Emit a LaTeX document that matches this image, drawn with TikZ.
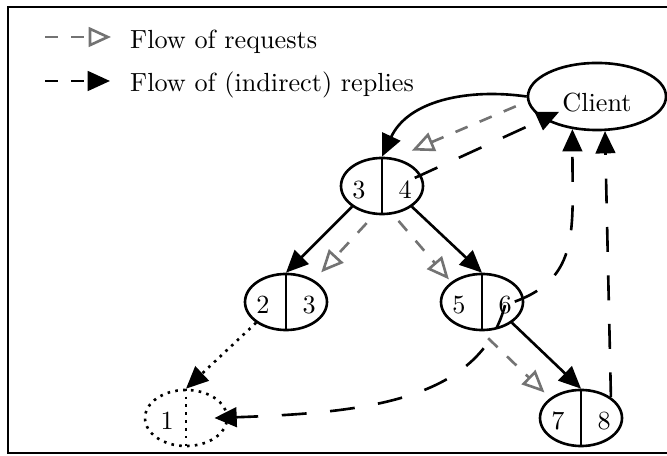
\documentclass[tikz,border=0pt]{standalone}
\usetikzlibrary{arrows.meta,shapes.geometric}
\begin{document}
\begin{tikzpicture}[x=0.3817pt,y=-0.3817pt,
  lw/.style={line width=1pt},
  peer/.style={draw,ellipse,line width=1pt,minimum width=31.3pt,minimum height=21.4pt,inner sep=0pt},
  ghost/.style={peer,dotted},
  lbl/.style={inner sep=1pt},
  fwd/.style={line width=1pt,-{Triangle[length=8.5pt,width=7.5pt]}},
  req/.style={line width=1pt,draw=black!55,dash pattern=on 5pt off 5pt,-{Triangle[open,length=8.5pt,width=7.5pt]}},
  rep/.style={line width=1pt,dash pattern=on 9.5pt off 9pt,-{Triangle[length=8.5pt,width=7.5pt]}},
  legrep/.style={line width=1pt,dash pattern=on 5pt off 5pt,-{Triangle[length=8.5pt,width=7.5pt]}}
]
\useasboundingbox (0,0) rectangle (667,456);
% frame
\draw[line width=0.8pt] (668,7) -- (8,7) -- (8,453) -- (668,453);

% legend
\coordinate (lg1s) at (45,37);
\coordinate (lg1e) at (111,37);
\coordinate (lg2s) at (45,81);
\coordinate (lg2e) at (110,81);
\draw[req] (lg1s) -- (lg1e);
\draw[legrep] (lg2s) -- (lg2e);
\node[lbl,anchor=base west] (lg1) at (127,49) {Flow of requests};
\node[lbl,anchor=base west] (lg2) at (127,92) {Flow of (indirect) replies};

% nodes
\node[peer,minimum width=52.7pt,minimum height=25.6pt] (client) at (597,96.5) {};
\node[lbl] (clientl) at ([yshift=-2.3pt]client.center) {Client};

\node[peer] (n34) at (382,186) {};
\node[peer] (n23) at (286,302) {};
\node[peer] (n56) at (482,302) {};
\node[peer] (n78) at (581,418) {};
\node[ghost] (n1) at (186,418) {};

\foreach \n in {n34,n23,n56,n78}{\draw[lw] (\n.north) -- (\n.south);}
\draw[lw,dotted] (n1.north) -- (n1.south);

\node[lbl] (n34l) at ([xshift=-8.8pt,yshift=-1.5pt]n34.center) {3};
\node[lbl] (n34r) at ([xshift=8.8pt,yshift=-1.5pt]n34.center) {4};
\node[lbl] (n23l) at ([xshift=-8.8pt,yshift=-1.2pt]n23.center) {2};
\node[lbl] (n23r) at ([xshift=8.8pt,yshift=-1.2pt]n23.center) {3};
\node[lbl] (n56l) at ([xshift=-8.8pt,yshift=-1.2pt]n56.center) {5};
\node[lbl] (n56r) at ([xshift=8.8pt,yshift=-1.2pt]n56.center) {6};
\node[lbl] (n78l) at ([xshift=-8.8pt,yshift=-1.2pt]n78.center) {7};
\node[lbl] (n78r) at ([xshift=8.8pt,yshift=-1.2pt]n78.center) {8};
\node[lbl] (n1l) at ([xshift=-7.2pt,yshift=-1.2pt]n1.center) {1};

% forwarding (solid)
\draw[fwd] (client.west) to[out=172,in=65] (n34.north);
\draw[fwd] (n34.south west) -- (n23.north);
\draw[fwd] (n34.south east) -- (n56.north);
\draw[fwd] (n56.south east) -- (n78.north);
\draw[fwd,dotted] (n23.south west) -- (n1.north);

% requests (grey)
\draw[req,shorten <=4.8pt,shorten >=7.2pt] (client.184) -- (n34.66);
\draw[req,shorten <=4.3pt,shorten >=4pt] (n34.-105) -- (n23.38);
\draw[req,shorten <=3.3pt,shorten >=1.3pt] (n34.-69) -- (n56.147);
\draw[req,shorten <=3.8pt,shorten >=3pt] (n56.-92) -- (n78.147);

% replies (black dashed)
\draw[rep] (n34r.north east) -- ([xshift=-14.5pt,yshift=-5.9pt]client.center);
\draw[rep] (n56r.center) .. controls +(-105:38pt) and +(2:57pt) .. ([xshift=-5.3pt]n1.east);
\draw[rep] (n56r.20) .. controls +(20:26.7pt) and +(-90:38pt) .. (client.-127);
\draw[rep] (n78.north east) -- (client.-77);
\end{tikzpicture}
\end{document}
